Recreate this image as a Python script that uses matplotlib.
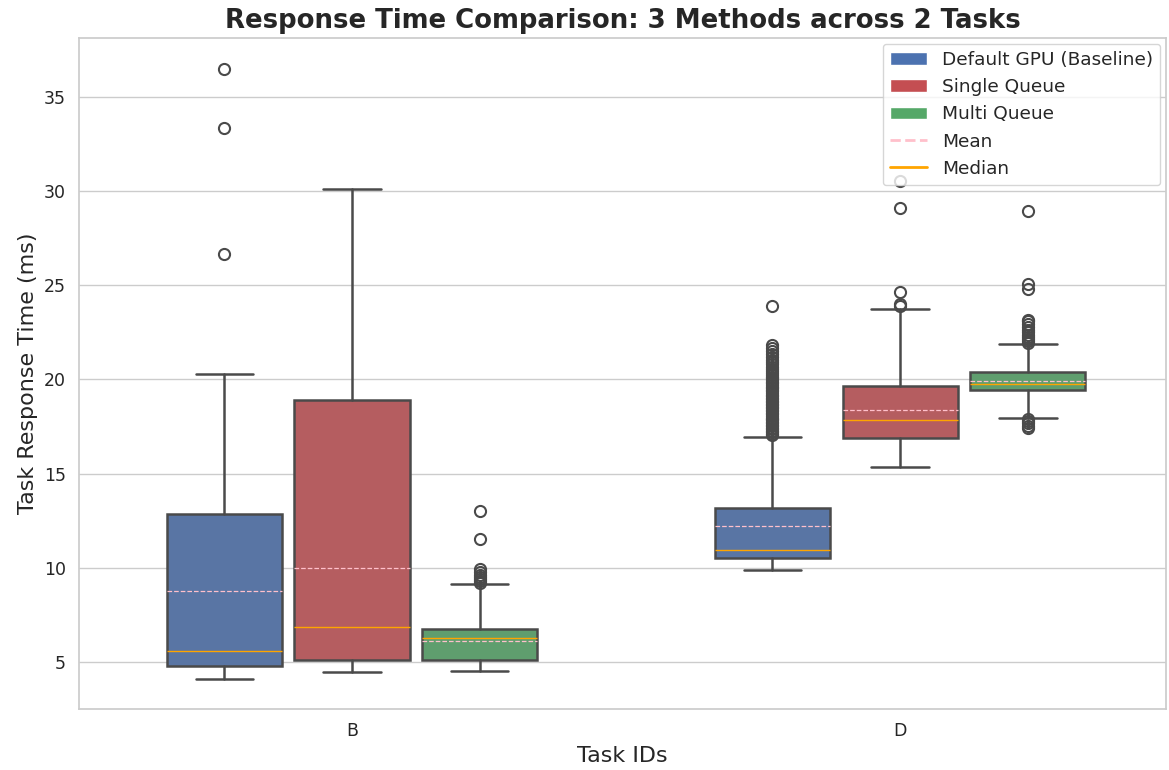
import numpy as np
import matplotlib
matplotlib.use('Agg')
import matplotlib.pyplot as plt
import seaborn as sns
from matplotlib.patches import Patch
from matplotlib.lines import Line2D

# data
tasks = ['B', 'D']
methods = ['Default GPU (Baseline)', 'Single Queue', 'Multi Queue']
colors = ['#4c72b0', '#c44e52', '#55a868']
box_colors = ['#5975a4', '#b55d60', '#5f9e6e']

# per task, per method: q1, median, q3, whislo, whishi, mean
q1 = [[4.78, 5.07, 5.11], [10.53, 16.88, 19.43]]
med = [[5.59, 6.85, 6.28], [10.92, 17.82, 19.75]]
q3 = [[12.86, 18.90, 6.72], [13.18, 19.65, 20.41]]
whislo = [[4.10, 4.45, 4.52], [9.88, 15.32, 17.96]]
whishi = [[20.31, 30.11, 9.14], [16.93, 23.76, 21.86]]
means = [[8.74, 10.00, 6.10], [12.22, 18.37, 19.93]]

fliers_B_default = [26.67, 33.39, 36.52]
fliers_B_single = []
fliers_B_multi = [9.20, 9.28, 9.38, 9.50, 9.62, 9.78, 9.92, 11.50, 13.02]
fliers_D_default = [17.05, 17.12, 17.20, 17.26, 17.35, 17.41, 17.50, 17.58, 17.66, 17.73,
                    17.82, 17.90, 17.97, 18.05, 18.14, 18.22, 18.30, 18.37, 18.46, 18.55,
                    18.62, 18.70, 18.79, 18.86, 18.95, 19.03, 19.12, 19.20, 19.28, 19.37,
                    19.45, 19.53, 19.62, 19.70, 19.80, 19.88, 19.97, 20.06, 20.15, 20.25,
                    20.34, 20.45, 20.56, 20.68, 20.80, 20.93, 21.05, 21.20, 21.35, 21.50,
                    21.65, 21.82, 23.88]
fliers_D_single = [23.90, 24.00, 24.63, 29.11, 30.55]
fliers_D_multi = [17.40, 17.55, 17.70, 17.80, 17.90, 21.95, 22.05, 22.15, 22.25, 22.35,
                  22.50, 22.65, 22.80, 22.95, 23.10, 23.17, 24.80, 25.07, 28.97]
fliers = [[fliers_B_default, fliers_B_single, fliers_B_multi],
          [fliers_D_default, fliers_D_single, fliers_D_multi]]

sns.set_theme(style='whitegrid')
plt.rcParams['font.family'] = ['DejaVu Sans']

fig = plt.figure(figsize=(11.69, 7.7), dpi=100)
ax = fig.add_axes([0.0676, 0.0792, 0.9298, 0.8714])

offsets = [-0.233, 0.0, 0.233]
edge = '#4a4a4a'
for ti in range(len(tasks)):
    for mi in range(len(methods)):
        st = dict(q1=q1[ti][mi], med=med[ti][mi], q3=q3[ti][mi],
                  whislo=whislo[ti][mi], whishi=whishi[ti][mi],
                  mean=means[ti][mi], fliers=fliers[ti][mi])
        ax.bxp([st], positions=[ti + offsets[mi]], widths=0.21, patch_artist=True,
               showmeans=True, meanline=True,
               boxprops=dict(facecolor=box_colors[mi], edgecolor=edge, linewidth=1.8),
               whiskerprops=dict(color=edge, linewidth=1.8),
               capprops=dict(color=edge, linewidth=1.8),
               medianprops=dict(color='orange', linewidth=1.0),
               meanprops=dict(color='pink', linestyle='--', linewidth=0.9),
               flierprops=dict(marker='o', markersize=8, markerfacecolor='none',
                               markeredgecolor=edge, markeredgewidth=1.5),
               manage_ticks=False)

ax.set_xlim(-0.498, 1.485)
ax.set_ylim(2.48, 38.15)
ax.set_xticks(range(len(tasks)))
ax.set_xticklabels(tasks)
ax.set_yticks([5, 10, 15, 20, 25, 30, 35])
ax.grid(axis='x', visible=False)
ax.grid(axis='y', color='#cccccc', linewidth=1.0)
ax.tick_params(labelsize=12.5)
ax.set_xlabel('Task IDs', fontsize=16)
ax.set_ylabel('Task Response Time (ms)', fontsize=16)
ax.set_title('Response Time Comparison: 3 Methods across 2 Tasks',
             fontsize=18.7, fontweight='bold', pad=7)
for s in ax.spines.values():
    s.set_color('#cccccc')

handles = [Patch(facecolor=c, label=m) for c, m in zip(colors, methods)]
handles.append(Line2D([0], [0], color='pink', linestyle='--', linewidth=2, label='Mean'))
handles.append(Line2D([0], [0], color='orange', linewidth=2, label='Median'))
ax.legend(handles=handles, loc='upper right', fontsize=13.3, framealpha=0.8,
          borderaxespad=0.3)

fig.savefig('out.png', dpi=100)
